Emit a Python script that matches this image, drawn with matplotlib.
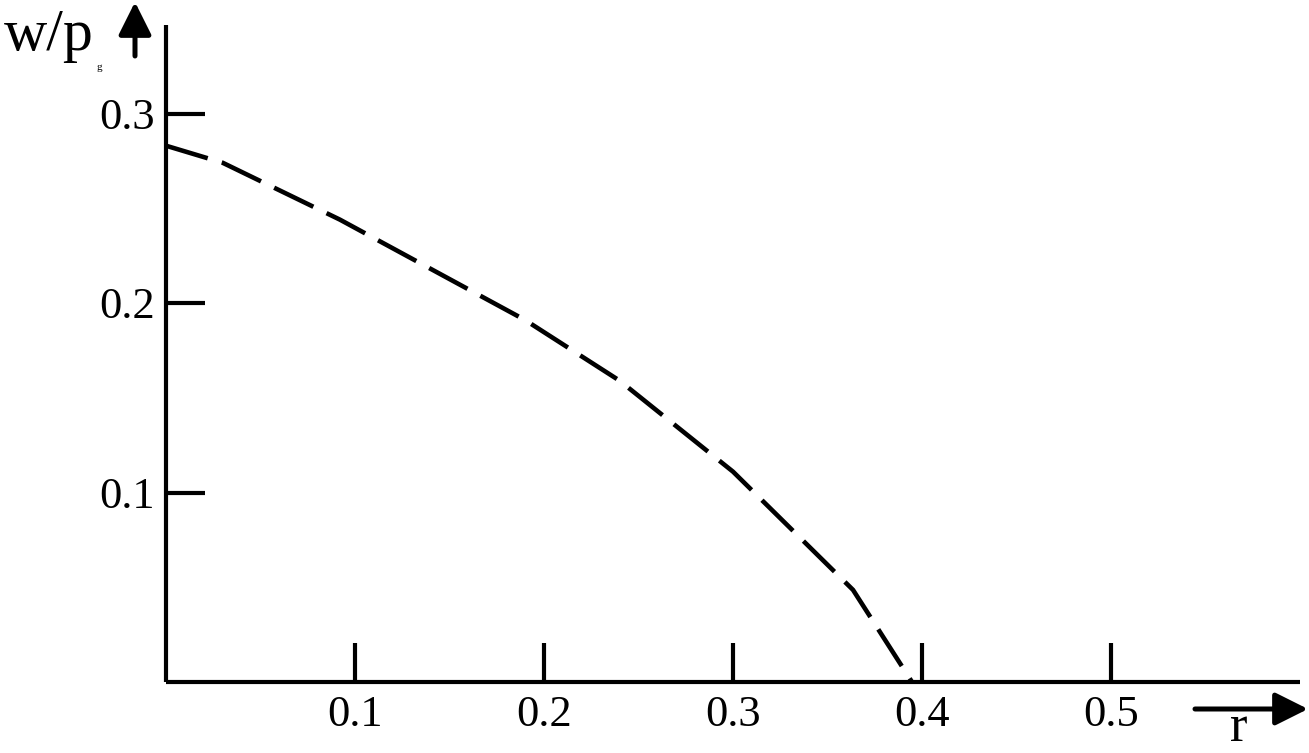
import matplotlib
matplotlib.use("Agg")
import matplotlib.pyplot as plt

# Data
r_vals = [0.0, 0.030, 0.092, 0.190, 0.240, 0.300, 0.3635, 0.3947]
w_vals = [0.283, 0.274, 0.244, 0.191, 0.159, 0.111, 0.0486, 0.0]
x_ticks = [0.1, 0.2, 0.3, 0.4, 0.5]
x_tick_labels = ["0.1", "0.2", "0.3", "0.4", "0.5"]
y_ticks = [0.1, 0.2, 0.3]
y_tick_labels = ["0.1", "0.2", "0.3"]

W, H = 1309, 753
fig = plt.figure(figsize=(W / 100, H / 100), dpi=100)
plt.rcParams['font.family'] = ['Liberation Serif', 'DejaVu Serif']

# axes placement in pixels
x0_px, x1_px = 166, 1300
y0_px, y1_px = 682, 25
ax = fig.add_axes([x0_px / W, (H - y0_px) / H, (x1_px - x0_px) / W, (y0_px - y1_px) / H])
ax.set_xlim(0, (x1_px - x0_px) / 1890)
ax.set_ylim(0, (y0_px - y1_px) / 1895)
ax.patch.set_alpha(0)

for s in ['top', 'right']:
    ax.spines[s].set_visible(False)
for s in ['left', 'bottom']:
    ax.spines[s].set_linewidth(3)
    ax.spines[s].set_capstyle('butt')

ax.set_xticks(x_ticks)
ax.set_xticklabels(x_tick_labels)
ax.set_yticks(y_ticks)
ax.set_yticklabels(y_tick_labels)
ax.tick_params(axis='both', direction='in', length=28, width=3, labelsize=32, color='black')
ax.tick_params(axis='x', pad=9)
ax.tick_params(axis='y', pad=8)

ax.plot(r_vals, w_vals, color='black', linewidth=3.3, dashes=(9.5, 3.2), solid_capstyle='butt',
        dash_capstyle='butt', clip_on=False)

# axis labels and arrows (figure pixels, origin bottom-left)
fig.text(4 / W, (H - 50) / H, "w/p", fontsize=43, ha='left', va='baseline')
fig.text(96 / W, (H - 70) / H, "g", fontsize=8, ha='left', va='baseline')
fig.text(1239 / W, (H - 741) / H, "r", fontsize=38, ha='center', va='baseline')

arrow_kw = dict(arrowstyle='-|>,head_length=2.0,head_width=1.0', color='black', lw=3.6,
                shrinkA=0, shrinkB=0, mutation_scale=10)
ax.annotate("", xy=(135, H - 2), xytext=(135, H - 56), xycoords='figure pixels',
            textcoords='figure pixels', arrowprops=arrow_kw, annotation_clip=False)
ax.annotate("", xy=(1308, H - 709), xytext=(1195, H - 709), xycoords='figure pixels',
            textcoords='figure pixels', arrowprops=arrow_kw, annotation_clip=False)

fig.savefig("out.png", dpi=100)
